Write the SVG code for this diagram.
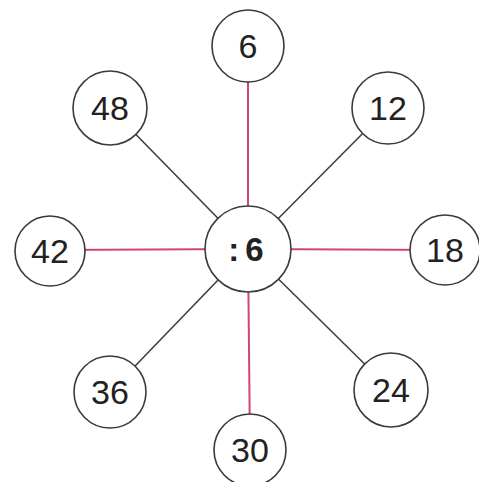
<svg xmlns="http://www.w3.org/2000/svg" width="479" height="482" viewBox="0 0 479 482">
<style>
.n{fill:#fff;stroke:#3a3a3a;stroke-width:1.6}
.t{font-family:"Liberation Sans",Arial,sans-serif;font-size:34px;fill:#222;text-anchor:middle}
.b{font-weight:bold;font-size:33px}
.r{stroke:#d2456e;stroke-width:2}
.g{stroke:#3f3f3f;stroke-width:1.6}
</style>
<rect width="479" height="482" fill="#fff"/>
<g id="connectors">
<line class="r" x1="248" y1="249" x2="248" y2="46"/>
<line class="r" x1="248" y1="249" x2="250" y2="450"/>
<line class="r" x1="248" y1="249" x2="50" y2="250"/>
<line class="r" x1="248" y1="249" x2="445" y2="250"/>
<line class="g" x1="248" y1="249" x2="110" y2="108"/>
<line class="g" x1="248" y1="249" x2="388" y2="108"/>
<line class="g" x1="248" y1="249" x2="391" y2="390"/>
<line class="g" x1="248" y1="249" x2="110" y2="392"/>
</g>
<g id="n6"><circle class="n" cx="248" cy="46" r="36"/><text class="t" x="248" y="58">6</text></g>
<g id="n12"><circle class="n" cx="388" cy="108" r="36"/><text class="t" x="388" y="120">12</text></g>
<g id="n18"><circle class="n" cx="445" cy="250" r="35"/><text class="t" x="445" y="262">18</text></g>
<g id="n24"><circle class="n" cx="391" cy="390" r="37"/><text class="t" x="391" y="402">24</text></g>
<g id="n30"><circle class="n" cx="250" cy="450" r="36"/><text class="t" x="250" y="462">30</text></g>
<g id="n36"><circle class="n" cx="110" cy="392" r="36"/><text class="t" x="110" y="404">36</text></g>
<g id="n42"><circle class="n" cx="50" cy="251" r="35"/><text class="t" x="50" y="263">42</text></g>
<g id="n48"><circle class="n" cx="110" cy="108" r="37"/><text class="t" x="110" y="120">48</text></g>
<g id="center"><circle class="n" cx="248" cy="249" r="43"/><text class="t b" x="246" y="261">:<tspan dx="6">6</tspan></text></g>
</svg>
